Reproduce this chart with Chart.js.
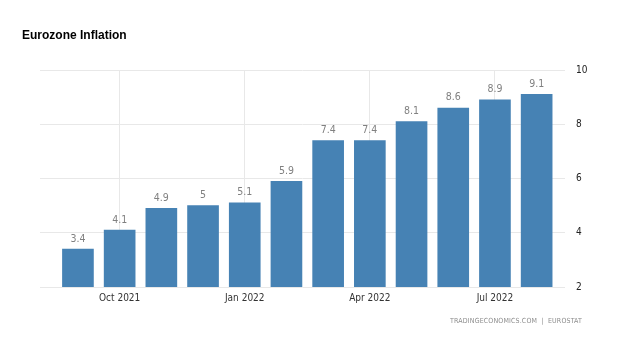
<!DOCTYPE html>
<html>
<head>
<meta charset="utf-8">
<script src="https://cdn.jsdelivr.net/npm/chart.js@4/dist/chart.umd.min.js"></script>
<style>
  html, body { margin: 0; padding: 0; background: #fff; }
  #wrap { position: relative; width: 621px; height: 337px; }
  #title { position: absolute; left: 22px; top: 28px; font: bold 12px "Liberation Sans", Arial, sans-serif; color: #000; }
  #source { position: absolute; right: 39px; top: 317px; font: 7px "DejaVu Sans Condensed", "DejaVu Sans", sans-serif; color: #8c8c8c; letter-spacing: 0.15px; }
  canvas { position: absolute; left: 0; top: 0; }
</style>
</head>
<body>
<div id="wrap">
  <canvas id="chart" width="621" height="337"></canvas>
  <div id="title">Eurozone Inflation</div>
  <div id="source">TRADINGECONOMICS.COM&nbsp;&nbsp;|&nbsp;&nbsp;EUROSTAT</div>
</div>
<script>
// Monthly euro area annual inflation rate, %
const months = ['Sep 2021', 'Oct 2021', 'Nov 2021', 'Dec 2021', 'Jan 2022', 'Feb 2022',
                'Mar 2022', 'Apr 2022', 'May 2022', 'Jun 2022', 'Jul 2022', 'Aug 2022'];
const inflation = [3.4, 4.1, 4.9, 5, 5.1, 5.9, 7.4, 7.4, 8.1, 8.6, 8.9, 9.1];
const xTickMonths = ['Oct 2021', 'Jan 2022', 'Apr 2022', 'Jul 2022'];
const yTicks = [2, 4, 6, 8, 10];

const axisFont = { family: '"DejaVu Sans Condensed", "DejaVu Sans", sans-serif', size: 10 };
const gridColor = '#e8e8e8';

// Value labels above each bar
const valueLabels = {
  id: 'valueLabels',
  afterDatasetsDraw(chart) {
    const ctx = chart.ctx;
    const meta = chart.getDatasetMeta(0);
    ctx.save();
    ctx.font = '10.5px ' + axisFont.family;
    ctx.fillStyle = '#808080';
    ctx.textAlign = 'center';
    ctx.textBaseline = 'bottom';
    meta.data.forEach((bar, i) => {
      ctx.fillText(String(inflation[i]), bar.x, bar.y - 5);
    });
    ctx.restore();
  }
};

new Chart(document.getElementById('chart'), {
  type: 'bar',
  data: {
    datasets: [{
      data: inflation.map((v, i) => ({ x: i, y: v })),
      backgroundColor: '#4682b4',
      borderWidth: 0,
      barThickness: 31
    }]
  },
  options: {
    responsive: false,
    animation: false,
    layout: { padding: { left: 40, top: 70, right: 16, bottom: 20 } },
    plugins: { legend: { display: false }, tooltip: { enabled: false }, title: { display: false } },
    scales: {
      x: {
        type: 'linear',
        offset: false,
        bounds: 'ticks',
        min: -0.91,
        max: 11.68,
        grid: { color: gridColor, drawTicks: false, offset: false },
        border: { display: false },
        afterBuildTicks(scale) {
          scale.ticks = xTickMonths.map(m => ({ value: months.indexOf(m) }));
        },
        afterFit(scale) { scale.height = 30; },
        ticks: {
          padding: 5,
          color: '#333',
          font: axisFont,
          maxRotation: 0,
          callback: v => months[v]
        }
      },
      y: {
        position: 'right',
        min: yTicks[0],
        max: yTicks[yTicks.length - 1],
        grid: { color: gridColor, drawTicks: false },
        border: { display: false },
        afterBuildTicks(scale) {
          scale.ticks = yTicks.map(v => ({ value: v }));
        },
        afterFit(scale) { scale.width = 40; },
        ticks: { padding: 11, color: '#222', font: axisFont }
      }
    }
  },
  plugins: [valueLabels]
});
</script>
</body>
</html>
